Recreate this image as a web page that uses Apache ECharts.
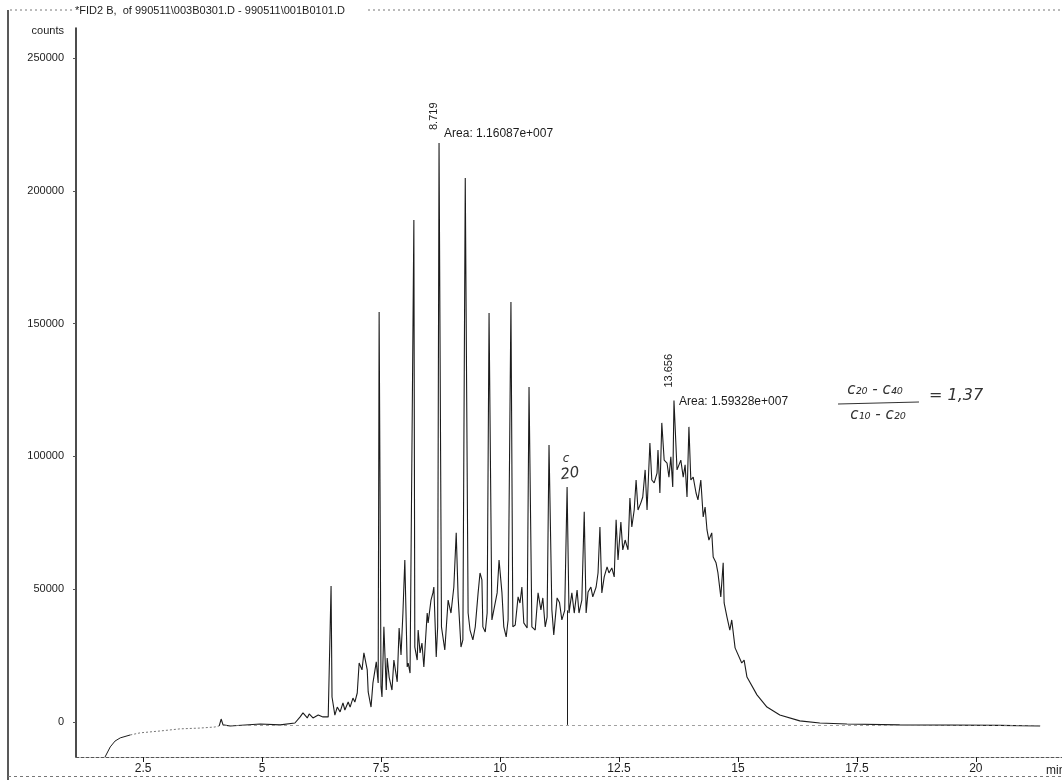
<!DOCTYPE html>
<html>
<head>
<meta charset="utf-8">
<script src="https://cdn.jsdelivr.net/npm/echarts@6/dist/echarts.min.js"></script>
<style>
  html, body { margin: 0; padding: 0; background: #fff; }
  #chart { width: 1062px; height: 780px; }
</style>
</head>
<body>
<div id="chart"></div>
<script>
// FID2 B difference chromatogram: retention time (min) and detector counts
const timeMin = [
  1.70, 1.81, 1.91, 2.02, 2.23, 2.44, 2.86, 3.28, 3.70, 4.01,
  4.10, 4.14, 4.18, 4.33, 4.96, 5.38, 5.69, 5.80, 5.86, 5.95,
  5.99, 6.07, 6.18, 6.28, 6.39, 6.45, 6.47, 6.53, 6.58, 6.64,
  6.70, 6.74, 6.81, 6.85, 6.91, 6.95, 7.00, 7.04, 7.10, 7.14,
  7.21, 7.23, 7.29, 7.33, 7.40, 7.44, 7.46, 7.50, 7.52, 7.56,
  7.61, 7.63, 7.67, 7.73, 7.77, 7.84, 7.88, 7.92, 7.96, 8.00,
  8.05, 8.07, 8.11, 8.19, 8.21, 8.26, 8.28, 8.32, 8.36, 8.40,
  8.47, 8.49, 8.55, 8.59, 8.61, 8.66, 8.69, 8.719, 8.77, 8.84,
  8.91, 8.97, 9.03, 9.08, 9.12, 9.18, 9.22, 9.27, 9.33, 9.37,
  9.43, 9.48, 9.54, 9.58, 9.62, 9.64, 9.69, 9.73, 9.77, 9.83,
  9.85, 9.94, 9.98, 10.04, 10.08, 10.13, 10.17, 10.23, 10.27, 10.32,
  10.38, 10.42, 10.46, 10.50, 10.57, 10.61, 10.67, 10.74, 10.80, 10.86,
  10.90, 10.95, 10.99, 11.03, 11.09, 11.13, 11.20, 11.25, 11.30, 11.36,
  11.41, 11.45, 11.51, 11.56, 11.62, 11.66, 11.72, 11.77, 11.81, 11.85,
  11.91, 11.95, 12.02, 12.06, 12.10, 12.14, 12.19, 12.25, 12.29, 12.35,
  12.40, 12.44, 12.48, 12.54, 12.58, 12.63, 12.69, 12.73, 12.77, 12.82,
  12.86, 12.90, 12.96, 13.00, 13.05, 13.09, 13.15, 13.19, 13.24, 13.30,
  13.32, 13.36, 13.40, 13.45, 13.51, 13.55, 13.59, 13.63, 13.656, 13.72,
  13.80, 13.85, 13.89, 13.93, 13.97, 14.01, 14.06, 14.12, 14.16, 14.22,
  14.27, 14.31, 14.35, 14.39, 14.45, 14.48, 14.54, 14.58, 14.64, 14.69,
  14.71, 14.77, 14.83, 14.87, 14.94, 15.08, 15.13, 15.19, 15.40, 15.61,
  15.88, 16.30, 16.72, 17.29, 18.40, 20.50, 21.35
];
const counts = [
  -13200, -9400, -7200, -6000, -4900, -4100, -3400, -2600, -2300, -1900,
  -1500, 1100, -1100, -1500, -800, -1100, -400, 1900, 3400, 1500,
  3000, 1500, 2600, 1900, 1900, 51200, 9400, 2600, 5600, 3800,
  7200, 4500, 7500, 5600, 9000, 7500, 10900, 22200, 19600, 26000,
  19600, 11300, 5600, 14700, 22600, 14700, 154400, 13200, 9400, 35800,
  12000, 24100, 16900, 12000, 23300, 15100, 35400, 25200, 41000, 61000,
  20700, 22200, 18400, 189000, 28200, 23300, 34600, 26000, 29700, 20700,
  41000, 37300, 45900, 48600, 50800, 24500, 35800, 218000, 35800, 27100,
  45900, 41000, 50800, 71200, 47100, 28200, 30900, 204800, 41000, 34600,
  30900, 35800, 48600, 56100, 53500, 35800, 33900, 41000, 154000, 38400,
  37700, 48600, 61000, 48900, 35800, 32000, 38400, 158100, 35800, 36500,
  47100, 44800, 50800, 37300, 35400, 126100, 35800, 34600, 48600, 42200,
  46700, 35800, 39500, 104300, 42200, 32800, 46700, 45000, 38400, 42000,
  88500, 41000, 48600, 41000, 49700, 41000, 45900, 79100, 41000, 48900,
  50800, 47100, 50800, 56100, 73400, 48600, 54600, 58400, 56100, 58000,
  54600, 76100, 61000, 75300, 64800, 68500, 64800, 84300, 73400, 79800,
  91100, 79800, 82500, 84700, 94900, 79800, 105000, 91100, 90000, 93700,
  102400, 86200, 112600, 98600, 97500, 92200, 99800, 88500, 121000, 94900,
  98600, 92200, 96800, 84700, 111100, 91100, 92200, 86200, 83600, 91100,
  77200, 80900, 72300, 68500, 71200, 62100, 59900, 56100, 47100, 59900,
  44800, 39500, 34600, 38400, 27900, 22200, 23300, 16900, 10200, 5600,
  2600, 400, -400, -800, -1100, -1300, -1500
];

// Axis ticks
const xTickValues = [2.5, 5, 7.5, 10, 12.5, 15, 17.5, 20];
const yTickValues = [0, 50000, 100000, 150000, 200000, 250000];

// Integrated peaks: retention time and reported area
const peakTimes = [8.719, 13.656];
const peakAreas = ['1.16087e+007', '1.59328e+007'];

// C20 marker drop line and the integration baseline
const c20Time = 11.41;
const c20Drop = [-1100, 42000];
const baselineLevel = -1300;
const baselineSpan = [4.2, 21.35];

const points = timeMin.map((t, i) => [t, counts[i]]);
// detector warm-up trace prints faintly between 2.2 and 4.1 min
const warmStart = 4, warmEnd = 10;

const chart = echarts.init(document.getElementById('chart'), null, { renderer: 'canvas' });
const font = '"Liberation Sans", Arial, sans-serif';
const ink = '#1c1c1c';

chart.setOption({
  animation: false,
  backgroundColor: '#ffffff',
  grid: { left: 76, right: 0, top: 28, bottom: 23, containLabel: false, outerBoundsMode: 'none' },
  xAxis: {
    type: 'value', min: 1.09, max: 21.81,
    splitLine: { show: false },
    axisLine: { show: true, onZero: false, lineStyle: { color: '#555', width: 1, type: [3, 2] } },
    axisTick: { show: true, customValues: xTickValues, length: 5, lineStyle: { color: ink, width: 1 } },
    axisLabel: { customValues: xTickValues, color: ink, fontSize: 12, fontFamily: font, margin: 6,
      formatter: v => String(v) }
  },
  yAxis: {
    type: 'value', min: -13200, max: 261300,
    splitLine: { show: false },
    axisLine: { show: true, onZero: false, lineStyle: { color: '#111', width: 1.5 } },
    axisTick: { show: true, customValues: yTickValues, length: 3, lineStyle: { color: '#555', width: 1 } },
    axisLabel: { customValues: yTickValues, color: ink, fontSize: 11, fontFamily: font, margin: 12,
      formatter: v => String(v) }
  },
  series: [
    {
      type: 'line', data: points.slice(0, warmStart + 1), showSymbol: false, silent: true,
      lineStyle: { color: ink, width: 1 }
    },
    {
      type: 'line', data: points.slice(warmStart, warmEnd + 1), showSymbol: false, silent: true,
      lineStyle: { color: '#555', width: 0.8, type: [2, 2] }
    },
    {
      type: 'line', data: points.slice(warmEnd), showSymbol: false, silent: true, sampling: null,
      lineStyle: { color: ink, width: 1.1 },
      markLine: {
        silent: true, symbol: 'none', animation: false,
        label: { show: false },
        data: [
          [{ coord: [c20Time, c20Drop[0]], lineStyle: { color: ink, width: 1, type: 'solid' } },
           { coord: [c20Time, c20Drop[1]] }],
          [{ coord: [baselineSpan[0], baselineLevel], lineStyle: { color: '#888', width: 0.8, type: [3, 3] } },
           { coord: [baselineSpan[1], baselineLevel] }]
        ]
      }
    }
  ]
});

// Peak annotations placed from the data through the axis scales
const graphics = [];
peakTimes.forEach((t, i) => {
  const idx = timeMin.indexOf(t);
  const p = chart.convertToPixel({ gridIndex: 0 }, [t, counts[idx]]);
  graphics.push({
    type: 'text', x: p[0] - 5, y: p[1] - 13, rotation: Math.PI / 2,
    style: { text: t.toFixed(3), font: '11px ' + font, fill: ink, textAlign: 'left', textVerticalAlign: 'middle' }
  });
  graphics.push({
    type: 'text', x: p[0] + 5, y: p[1] + (i === 0 ? -9 : 1),
    style: { text: 'Area: ' + peakAreas[i], font: '12px ' + font, fill: ink, textAlign: 'left', textVerticalAlign: 'middle' }
  });
});

// Page frame, header and unit labels
graphics.push(
  { type: 'line', shape: { x1: 8, y1: 10, x2: 8, y2: 780 }, style: { stroke: '#222', lineWidth: 1.5 } },
  { type: 'line', shape: { x1: 10, y1: 10, x2: 72, y2: 10 }, style: { stroke: '#777', lineWidth: 1, lineDash: [2, 3] } },
  { type: 'line', shape: { x1: 368, y1: 10, x2: 1062, y2: 10 }, style: { stroke: '#777', lineWidth: 1, lineDash: [2, 3] } },
  { type: 'line', shape: { x1: 8, y1: 776.5, x2: 1062, y2: 776.5 }, style: { stroke: '#777', lineWidth: 1, lineDash: [3, 3] } },
  { type: 'text', x: 75, y: 11,
    style: { text: '*FID2 B,  of 990511\\003B0301.D - 990511\\001B0101.D', font: '11px ' + font, fill: ink, textVerticalAlign: 'middle' } },
  { type: 'text', x: 64, y: 31,
    style: { text: 'counts', font: '11px ' + font, fill: ink, textAlign: 'right', textVerticalAlign: 'middle' } },
  { type: 'text', x: 1046, y: 771,
    style: { text: 'min', font: '12px ' + font, fill: ink, textVerticalAlign: 'middle' } }
);

// Handwritten notes: C20 peak and the carbon-range ratio
const hand = 'italic 15px "DejaVu Sans", sans-serif';
graphics.push(
  { type: 'text', x: 566, y: 459, style: { text: 'c', font: 'italic 12px "DejaVu Sans", sans-serif', fill: '#333', textAlign: 'center', textVerticalAlign: 'middle' } },
  { type: 'text', x: 570, y: 474, rotation: 0.15, style: { text: '20', font: hand, fill: '#333', textAlign: 'center', textVerticalAlign: 'middle' } },
  { type: 'text', x: 875, y: 390, style: { text: 'c₂₀ - c₄₀', font: hand, fill: '#333', textAlign: 'center', textVerticalAlign: 'middle' } },
  { type: 'line', shape: { x1: 838, y1: 404, x2: 919, y2: 402 }, style: { stroke: '#333', lineWidth: 1.2 } },
  { type: 'text', x: 878, y: 415, style: { text: 'c₁₀ - c₂₀', font: hand, fill: '#333', textAlign: 'center', textVerticalAlign: 'middle' } },
  { type: 'text', x: 929, y: 396, style: { text: '= 1,37', font: 'italic 16px "DejaVu Sans", sans-serif', fill: '#333', textAlign: 'left', textVerticalAlign: 'middle' } }
);

chart.setOption({ graphic: graphics });
</script>
</body>
</html>
